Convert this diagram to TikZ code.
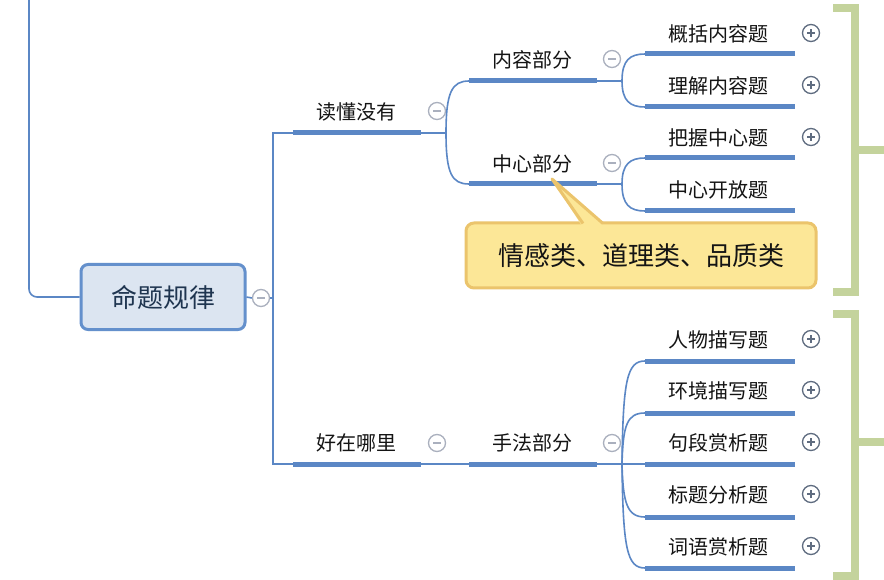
\documentclass[tikz,border=0pt]{standalone}
\usepackage{fontspec}
\newfontfamily\cjk{Noto Sans CJK SC}
\definecolor{lblue}{RGB}{91,135,197}
\definecolor{rootfill}{RGB}{220,229,241}
\definecolor{rootdraw}{RGB}{100,144,204}
\definecolor{rtext}{RGB}{31,53,80}
\definecolor{cgray}{RGB}{170,176,190}
\definecolor{pgray}{RGB}{95,108,128}
\definecolor{bgreen}{RGB}{196,211,156}
\definecolor{callfill}{RGB}{252,231,151}
\definecolor{calldraw}{RGB}{235,196,108}
\definecolor{ink}{RGB}{20,20,20}
\tikzset{
  thin line/.style={draw=lblue,line width=1.6pt},
  barline/.style={draw=lblue,line width=5pt},
  lbl/.style={font=\cjk\fontsize{20}{20}\selectfont,text=ink,inner sep=0pt},
  minusc/.style={circle,draw=cgray,line width=1.3pt,minimum size=17pt,inner sep=0pt,fill=white,
    path picture={\draw[cgray,line width=1.5pt] ([xshift=-4pt]path picture bounding box.center) -- ([xshift=4pt]path picture bounding box.center);}},
  plusc/.style={circle,draw=pgray,line width=1.3pt,minimum size=17pt,inner sep=0pt,fill=white,
    path picture={\draw[pgray,line width=1.5pt] ([xshift=-4pt]path picture bounding box.center) -- ([xshift=4pt]path picture bounding box.center)
      ([yshift=-4pt]path picture bounding box.center) -- ([yshift=4pt]path picture bounding box.center);}},
  bracket/.style={draw=bgreen,line width=8pt},
}
\begin{document}
\begin{tikzpicture}[x=1pt,y=-1pt]
\useasboundingbox (0,0) rectangle (884,580);
\fill[white] (0,0) rectangle (884,580);

% root
\node[draw=rootdraw,fill=rootfill,line width=3pt,rounded corners=7pt,minimum width=164pt,minimum height=65pt,
  font=\cjk\fontsize{26}{26}\selectfont,text=rtext] (root) at (163,297) {命题规律};
\coordinate (topin) at (29,0);
\draw[thin line,rounded corners=8pt] (topin) |- (root.west);
\node[minusc] (mr) at (261,298) {};
\draw[thin line] (root.east) -- (mr.west);
\coordinate (rj) at (273,298);
\draw[thin line] (mr.east) -- (rj);

% level 1 bars
\coordinate (b1s) at (293,133); \coordinate (b1e) at (421,133);
\coordinate (b2s) at (293,464); \coordinate (b2e) at (421,464);
\coordinate (v1) at (273,133); \coordinate (v2) at (273,464);
\draw[thin line] (b1s) -- (v1) -- (v2) -- (b2s);
\draw[barline] (b1s) -- (b1e);
\draw[barline] (b2s) -- (b2e);
\node[lbl] (t1) at (356,112) {读懂没有};
\node[lbl] (t2) at (356,443) {好在哪里};
\node[minusc] (m1) at (437,111) {};
\node[minusc] (m2) at (437,443) {};

% level 2
\coordinate (j1) at (446,133);
\draw[thin line] (b1e) -- (j1);
\coordinate (c1s) at (469,81); \coordinate (c1e) at (597,81);
\coordinate (c2s) at (469,184); \coordinate (c2e) at (597,184);
\coordinate (c3s) at (469,464); \coordinate (c3e) at (597,464);
\draw[thin line] (j1) .. controls (446,92) and (452,81) .. (c1s);
\draw[thin line] (j1) .. controls (446,174) and (452,184) .. (c2s);
\draw[thin line] (b2e) -- (c3s);
\draw[barline] (c1s) -- (c1e);
\draw[barline] (c2s) -- (c2e);
\draw[barline] (c3s) -- (c3e);
\node[lbl] (t11) at (532,60) {内容部分};
\node[lbl] (t12) at (532,164) {中心部分};
\node[lbl] (t21) at (532,443) {手法部分};
\node[minusc] (m11) at (612,59) {};
\node[minusc] (m12) at (612,163) {};
\node[minusc] (m21) at (612,443) {};

% level 3 under 内容部分
\coordinate (j11) at (622,81);
\draw[thin line] (c1e) -- (j11);
\coordinate (d1s) at (645,54); \coordinate (d1e) at (795,54);
\coordinate (d2s) at (645,107); \coordinate (d2e) at (795,107);
\draw[thin line] (j11) .. controls (622,60) and (630,54) .. (d1s);
\draw[thin line] (j11) .. controls (622,101) and (630,107) .. (d2s);
\draw[barline] (d1s) -- (d1e);
\draw[barline] (d2s) -- (d2e);
\node[lbl] (u1) at (718,34) {概括内容题};
\node[lbl] (u2) at (718,86) {理解内容题};
\node[plusc] (p1) at (811,33) {};
\node[plusc] (p2) at (811,85) {};

% level 3 under 中心部分
\coordinate (j12) at (622,184);
\draw[thin line] (c2e) -- (j12);
\coordinate (d3s) at (645,158); \coordinate (d3e) at (795,158);
\coordinate (d4s) at (645,211); \coordinate (d4e) at (795,211);
\draw[thin line] (j12) .. controls (622,164) and (630,158) .. (d3s);
\draw[thin line] (j12) .. controls (622,205) and (630,211) .. (d4s);
\draw[barline] (d3s) -- (d3e);
\draw[barline] (d4s) -- (d4e);
\node[lbl] (u3) at (718,138) {把握中心题};
\node[lbl] (u4) at (718,190) {中心开放题};
\node[plusc] (p3) at (811,137) {};

% level 3 under 手法部分
\coordinate (j21) at (622,464);
\draw[thin line] (c3e) -- (j21);
\coordinate (e1s) at (645,361); \coordinate (e1e) at (795,361);
\coordinate (e2s) at (645,413); \coordinate (e2e) at (795,413);
\coordinate (e3s) at (645,464); \coordinate (e3e) at (795,464);
\coordinate (e4s) at (645,517); \coordinate (e4e) at (795,517);
\coordinate (e5s) at (645,568); \coordinate (e5e) at (795,568);
\draw[thin line] (j21) .. controls (623,380) and (627,361) .. (e1s);
\draw[thin line] (j21) .. controls (623,425) and (627,413) .. (e2s);
\draw[thin line] (j21) -- (e3s);
\draw[thin line] (j21) .. controls (623,503) and (627,517) .. (e4s);
\draw[thin line] (j21) .. controls (623,549) and (627,568) .. (e5s);
\foreach \a in {e1,e2,e3,e4,e5} \draw[barline] (\a s) -- (\a e);
\node[lbl] (w1) at (718,340) {人物描写题};
\node[lbl] (w2) at (718,391) {环境描写题};
\node[lbl] (w3) at (718,443) {句段赏析题};
\node[lbl] (w4) at (718,495) {标题分析题};
\node[lbl] (w5) at (718,547) {词语赏析题};
\node[plusc] (q1) at (811,339) {};
\node[plusc] (q2) at (811,390) {};
\node[plusc] (q3) at (811,442) {};
\node[plusc] (q4) at (811,494) {};
\node[plusc] (q5) at (811,546) {};

% callout
\node[draw=calldraw,fill=callfill,line width=3pt,rounded corners=8pt,minimum width=350pt,minimum height=65pt,
  font=\cjk\fontsize{26}{26}\selectfont,text=ink] (call) at (641,255.5) {情感类、道理类、品质类};
\coordinate (tip) at (552,179);
\fill[callfill] (582,226) -- (tip) -- (604,226) -- cycle;
\draw[calldraw,line width=3pt,line join=round] (583,223.5) -- (tip) -- (603,223.5);

% brackets
\draw[bracket] (833,8) -- (855,8) -- (855,292) -- (833,292);
\draw[bracket] (855,150) -- (884,150);
\draw[bracket] (833,314) -- (855,314) -- (855,576) -- (833,576);
\draw[bracket] (855,442) -- (884,442);
\end{tikzpicture}
\end{document}
